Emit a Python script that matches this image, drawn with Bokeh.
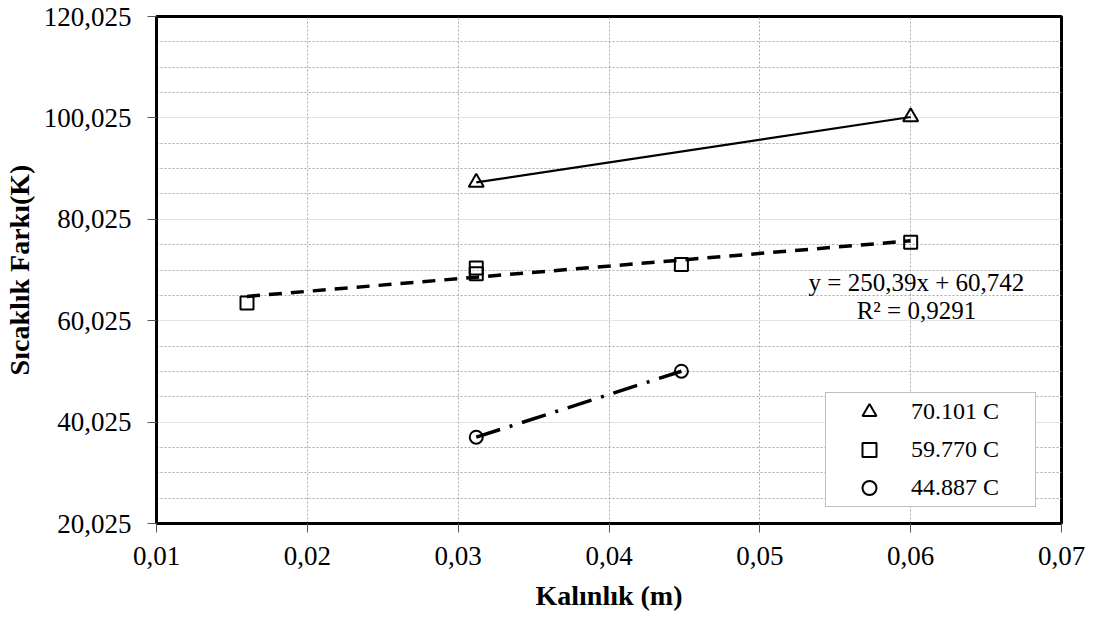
import numpy as np
from bokeh.plotting import figure
from bokeh.models import Range1d, FixedTicker, Legend, LegendItem, Label
from bokeh.embed import file_html
from bokeh.resources import INLINE

# ---------------- data ----------------
x_ticks = [0.01, 0.02, 0.03, 0.04, 0.05, 0.06, 0.07]
x_tick_labels = ["0,01", "0,02", "0,03", "0,04", "0,05", "0,06", "0,07"]
y_ticks = [20.025, 40.025, 60.025, 80.025, 100.025, 120.025]
y_tick_labels = ["20,025", "40,025", "60,025", "80,025", "100,025", "120,025"]
y_minor = [25.025, 30.025, 35.025, 45.025, 50.025, 55.025, 65.025, 70.025,
           75.025, 85.025, 90.025, 95.025, 105.025, 110.025, 115.025]

series_labels = ["70.101 C", "59.770 C", "44.887 C"]
tri_x = [0.0312, 0.06]
tri_y = [87.3, 100.2]
sq_x = [0.016, 0.0312, 0.0312, 0.0448, 0.06]
sq_y = [63.5, 70.4, 69.3, 71.1, 75.5]
ci_x = [0.0312, 0.0448]
ci_y = [37.05, 50.06]

eq_text = "y = 250,39x + 60,742"
r2_text = "R² = 0,9291"

x_title = "Kalınlık (m)"
y_title = "Sıcaklık Farkı(K)"

FONT = "Liberation Serif"

# ---------------- figure ----------------
p = figure(width=1096, height=625, output_backend="svg", toolbar_location=None,
           x_range=Range1d(x_ticks[0], x_ticks[-1]),
           y_range=Range1d(y_ticks[0], y_ticks[-1]),
           min_border_left=151, min_border_right=35,
           min_border_top=16, min_border_bottom=102)
p.background_fill_color = "white"
p.border_fill_color = "white"
p.outline_line_color = "black"
p.outline_line_width = 3

# axes
p.xaxis.ticker = FixedTicker(ticks=x_ticks, minor_ticks=[])
p.xaxis.major_label_overrides = {t: l for t, l in zip(x_ticks, x_tick_labels)}
p.yaxis.ticker = FixedTicker(ticks=y_ticks, minor_ticks=[])
p.yaxis.major_label_overrides = {t: l for t, l in zip(y_ticks, y_tick_labels)}
for ax in (p.xaxis, p.yaxis):
    ax.axis_line_color = "black"
    ax.axis_line_width = 3
    ax.major_tick_out = 9
    ax.major_tick_in = 0
    ax.major_tick_line_color = "#555555"
    ax.major_tick_line_width = 1
    ax.minor_tick_line_color = None
    ax.major_label_text_font = FONT
    ax.major_label_text_font_size = "27px"
    ax.major_label_text_color = "black"
    ax.axis_label_text_font = FONT
    ax.axis_label_text_font_size = "28px"
    ax.axis_label_text_font_style = "bold"
    ax.axis_label_text_color = "black"
p.xaxis.axis_label = x_title
p.yaxis.axis_label = y_title
p.xaxis.major_label_standoff = 14
p.yaxis.major_label_standoff = 16
p.xaxis.axis_label_standoff = 12
p.yaxis.axis_label_standoff = 6

# grids
p.xgrid.ticker = FixedTicker(ticks=x_ticks)
p.xgrid.grid_line_color = "#a8a8a8"
p.xgrid.grid_line_dash = "2 2"
p.xgrid.grid_line_width = 1
p.ygrid.ticker = FixedTicker(ticks=y_ticks, minor_ticks=y_minor)
p.ygrid.grid_line_color = "#c4c4c4"
p.ygrid.grid_line_dash = "1 1"
p.ygrid.grid_line_width = 1
p.ygrid.minor_grid_line_color = "#a8a8a8"
p.ygrid.minor_grid_line_dash = "2 2"
p.ygrid.minor_grid_line_width = 1

# lines
p.line(tri_x, tri_y, line_color="black", line_width=2.2)
coef = np.polyfit(sq_x, sq_y, 1)
tx = np.array([min(sq_x), max(sq_x)])
p.line(tx, np.polyval(coef, tx), line_color="black", line_width=3.5, line_dash="13 9")
p.line(ci_x, ci_y, line_color="black", line_width=3.5, line_dash="25 10 3 10")

# markers
r_tri = p.scatter(tri_x, tri_y, marker="triangle", size=15, fill_color=None,
                  line_color="black", line_width=2)
r_sq = p.scatter(sq_x, sq_y, marker="square", size=13, fill_color=None,
                 line_color="black", line_width=2)
r_ci = p.scatter(ci_x, ci_y, marker="circle", size=13, fill_color=None,
                 line_color="black", line_width=2)

# trendline equation
p.add_layout(Label(x=0.06038, y=67.6, text=eq_text, text_align="center",
                   text_baseline="alphabetic", text_font=FONT,
                   text_font_size="25px", text_color="black"))
p.add_layout(Label(x=0.06038, y=62.0, text=r2_text, text_align="center",
                   text_baseline="alphabetic", text_font=FONT,
                   text_font_size="25px", text_color="black"))

# legend
legend = Legend(items=[LegendItem(label=series_labels[0], renderers=[r_tri]),
                       LegendItem(label=series_labels[1], renderers=[r_sq]),
                       LegendItem(label=series_labels[2], renderers=[r_ci])],
                location=(669, 16), margin=0, padding=1, spacing=3,
                glyph_width=84, glyph_height=35, label_height=35,
                label_standoff=0, label_width=123,
                border_line_color="#808080", border_line_width=1,
                background_fill_color="white", background_fill_alpha=1,
                label_text_font=FONT, label_text_font_size="24px",
                label_text_color="black")
p.add_layout(legend)

open("out.html", "w").write(file_html(p, INLINE))
